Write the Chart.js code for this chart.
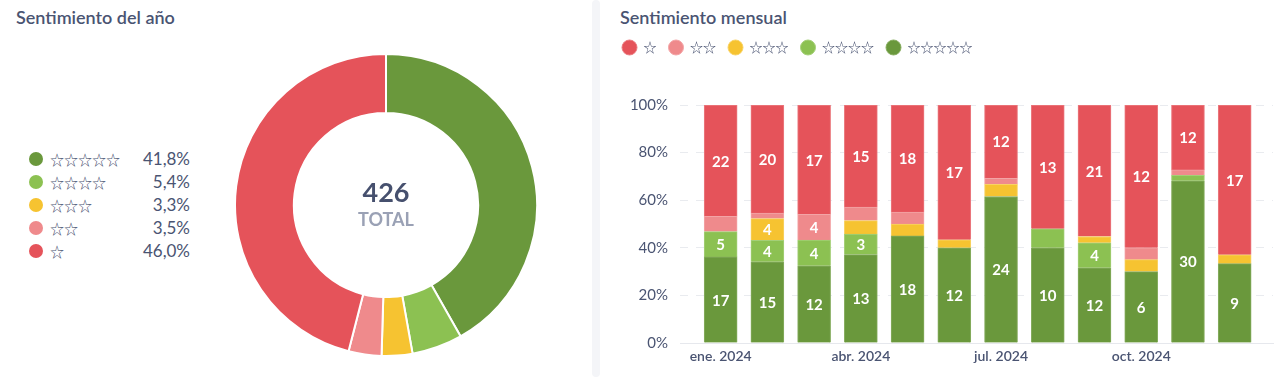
<!DOCTYPE html>
<html lang="es">
<head>
<meta charset="utf-8">
<title>Sentimiento</title>
<script src="https://cdn.jsdelivr.net/npm/chart.js@4.4.1/dist/chart.umd.min.js"></script>
<style>
  html, body { margin: 0; padding: 0; background: #fff; }
  body { width: 1285px; height: 377px; position: relative; overflow: hidden;
         font-family: Lato, 'DejaVu Sans', sans-serif; color: #4a5472; }
  .title { position: absolute; top: 6px; font-size: 18px; font-weight: 600; }
  .sep { position: absolute; left: 592px; top: 0; width: 8px; height: 377px; background: #f4f5f8; border-radius: 4px; }
  #yearLegend { position: absolute; left: 29px; top: 147px; }
  .row { display: flex; align-items: center; height: 23px; }
  .dot { width: 14px; height: 14px; border-radius: 50%; margin-right: 7px; flex: none; }
  .stars { font-family: 'Noto Sans CJK JP', sans-serif; font-size: 14px; width: 80px; line-height: 1; }
  .pct { width: 60px; text-align: right; font-size: 17px; }
  #yearChart { position: absolute; left: 234px; top: 53px; }
  #monthChart { position: absolute; left: 610px; top: 29px; }
</style>
</head>
<body>
<div class="title" style="left:16px">Sentimiento del año</div>
<div class="title" style="left:620px">Sentimiento mensual</div>
<div class="sep"></div>
<div id="yearLegend"></div>
<canvas id="yearChart" width="304" height="304"></canvas>
<canvas id="monthChart" width="675" height="348"></canvas>

<script>
const textColor = '#4a5472';

// categories, top of stack first in the legend (5 stars first in data order)
const starLabels = ['☆☆☆☆☆', '☆☆☆☆', '☆☆☆', '☆☆', '☆'];
const colors = ['#6a983c', '#8cc152', '#f6c331', '#ef8a8c', '#e5535a'];
const edgeColors = ['#87ad60', '#a4cf77', '#f8d264', '#f3a4a6', '#eb7b80'];

// yearly totals per rating (5 stars .. 1 star)
const yearCounts = [178, 23, 14, 15, 196];

// monthly counts
const months = ['ene. 2024', 'feb. 2024', 'mar. 2024', 'abr. 2024', 'may. 2024', 'jun. 2024',
                'jul. 2024', 'ago. 2024', 'sep. 2024', 'oct. 2024', 'nov. 2024', 'dic. 2024'];
const fiveStar  = [17, 15, 12, 13, 18, 12, 24, 10, 12,  6, 30,  9];
const fourStar  = [ 5,  4,  4,  3,  0,  0,  0,  2,  4,  0,  1,  0];
const threeStar = [ 0,  4,  0,  2,  2,  1,  2,  0,  1,  1,  0,  1];
const twoStar   = [ 3,  1,  4,  2,  2,  0,  1,  0,  0,  1,  1,  0];
const oneStar   = [22, 20, 17, 15, 18, 17, 12, 13, 21, 12, 12, 17];
const yTicks = [0, 20, 40, 60, 80, 100];

const monthly = [fiveStar, fourStar, threeStar, twoStar, oneStar];
const monthTotals = months.map((m, i) => monthly.reduce((s, arr) => s + arr[i], 0));
const yearTotal = yearCounts.reduce((a, b) => a + b, 0);

// left legend
const legendEl = document.getElementById('yearLegend');
starLabels.forEach((lbl, i) => {
  const pct = (yearCounts[i] / yearTotal * 100).toFixed(1).replace('.', ',') + '%';
  legendEl.innerHTML += `<div class="row"><span class="dot" style="background:${colors[i]}"></span>` +
    `<span class="stars">${lbl}</span><span class="pct">${pct}</span></div>`;
});

const centerText = {
  id: 'centerText',
  afterDraw(chart) {
    const arc = chart.getDatasetMeta(0).data[0];
    if (!arc) return;
    const ctx = chart.ctx;
    ctx.save();
    ctx.textAlign = 'center';
    ctx.textBaseline = 'middle';
    ctx.fillStyle = '#46506e';
    ctx.font = 'bold 27px Lato';
    ctx.fillText(String(yearTotal), arc.x, arc.y - 12);
    ctx.fillStyle = '#9aa1b5';
    ctx.font = 'bold 18px Lato';
    ctx.fillText('TOTAL', arc.x, arc.y + 15);
    ctx.restore();
  }
};

new Chart(document.getElementById('yearChart'), {
  type: 'doughnut',
  data: {
    labels: starLabels,
    datasets: [{
      data: yearCounts,
      backgroundColor: colors,
      borderColor: '#fff',
      borderWidth: 2,
      hoverOffset: 0
    }]
  },
  options: {
    responsive: false,
    animation: false,
    cutout: '61%',
    plugins: { legend: { display: false }, tooltip: { enabled: false } }
  },
  plugins: [centerText]
});

// count labels inside the bar segments
const barLabels = {
  id: 'barLabels',
  afterDatasetsDraw(chart) {
    const ctx = chart.ctx;
    ctx.save();
    ctx.fillStyle = '#fff';
    ctx.font = 'bold 15px Lato';
    ctx.textAlign = 'center';
    ctx.textBaseline = 'middle';
    chart.data.datasets.forEach((ds, di) => {
      chart.getDatasetMeta(di).data.forEach((bar, i) => {
        const n = ds.counts[i];
        const h = Math.abs(bar.base - bar.y);
        if (!n || h < 19.8) return;
        ctx.fillText(String(n), bar.x, (bar.y + bar.base) / 2 + 1);
      });
    });
    ctx.restore();
  }
};

// extra room under the legend
const legendGap = {
  id: 'legendGap',
  beforeInit(chart) {
    const fit = chart.legend.fit;
    chart.legend.fit = function () {
      fit.call(this);
      this.height += 41;
    };
  }
};

new Chart(document.getElementById('monthChart'), {
  type: 'bar',
  data: {
    datasets: monthly.map((arr, k) => ({
      label: starLabels[k],
      counts: arr,
      data: arr.map((v, i) => ({ x: i, y: v / monthTotals[i] * 100 })),
      backgroundColor: colors[k],
      borderColor: edgeColors[k],
      borderWidth: 1,
      barThickness: 33
    }))
  },
  options: {
    responsive: false,
    animation: false,
    layout: { padding: { left: 0, right: 12, top: 0, bottom: 0 } },
    scales: {
      x: {
        type: 'linear',
        stacked: true,
        offset: false,
        min: -0.87,
        max: 11.82,
        afterFit: s => { s.height = 34; },
        grid: { display: false, drawTicks: false },
        border: { display: true, color: '#e6e8ed' },
        ticks: {
          stepSize: 3,
          includeBounds: false,
          autoSkip: false,
          maxRotation: 0,
          padding: 5,
          color: textColor,
          font: { family: 'Lato', size: 14, weight: '600' },
          callback: v => months[v] || ''
        }
      },
      y: {
        stacked: true,
        min: yTicks[0],
        max: yTicks[yTicks.length - 1],
        afterFit: s => { s.width = 70; },
        grid: { color: '#e9ebef', drawTicks: false },
        border: { display: false, dash: [8, 8] },
        ticks: {
          stepSize: yTicks[1] - yTicks[0],
          padding: 12,
          color: textColor,
          font: { family: 'Lato', size: 15 },
          callback: v => v + '%'
        }
      }
    },
    plugins: {
      tooltip: { enabled: false },
      legend: {
        align: 'start',
        reverse: true,
        labels: {
          usePointStyle: true,
          pointStyle: 'circle',
          pointStyleWidth: 15,
          boxHeight: 10.6,
          padding: 12,
          color: textColor,
          font: { family: "'Noto Sans CJK JP'", size: 13 }
        }
      }
    }
  },
  plugins: [barLabels, legendGap]
});
</script>
</body>
</html>
